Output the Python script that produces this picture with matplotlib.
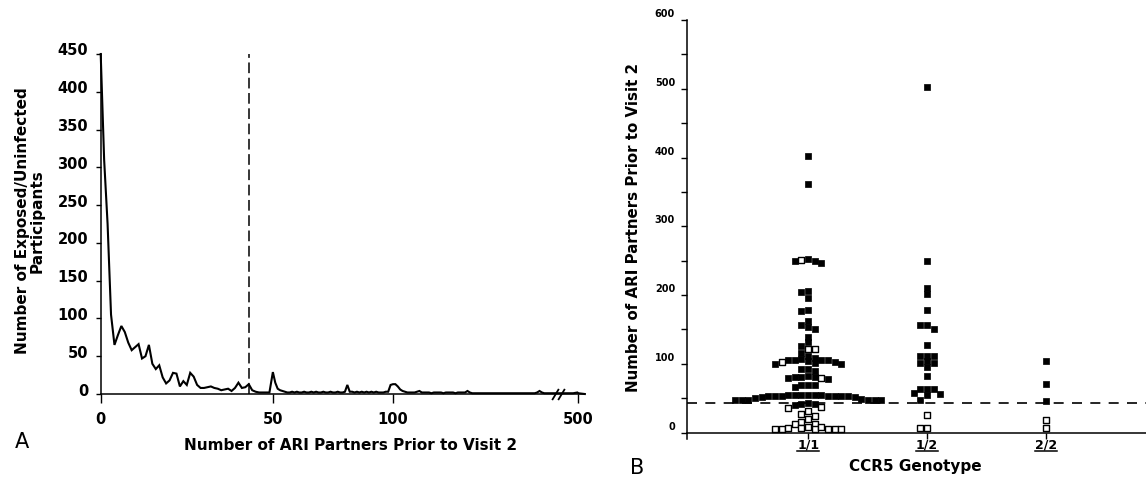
import numpy as np
import matplotlib
matplotlib.use("Agg")
import matplotlib.pyplot as plt
from matplotlib.lines import Line2D
from matplotlib.transforms import ScaledTranslation

# ---------------- Panel A data ----------------
partners_a = list(range(0, 171))
counts_a = [
    450, 310, 225, 105, 65, 78, 90, 82, 68, 58,          # 0-9
    62, 66, 47, 50, 65, 40, 33, 38, 22, 14,              # 10-19
    18, 28, 27, 10, 17, 12, 28, 23, 12, 8,               # 20-29
    8, 9, 10, 8, 7, 5, 6, 7, 4, 8,                       # 30-39
    15, 8, 9, 13, 5, 3, 2, 2, 2, 2,                      # 40-49
    29, 15, 7, 5, 4, 3, 2, 2, 3, 2,                      # 50-59
    3, 2, 2, 3, 2, 2, 3, 2, 3, 2,                        # 60-69
    2, 3, 2, 2, 3, 2, 2, 3, 2, 2,                        # 70-79
    3, 12, 3, 3, 2, 3, 2, 3, 2, 3,                       # 80-89
    2, 3, 2, 3, 2, 2, 2, 3, 3, 12,                       # 90-99
    13, 13, 10, 6, 4, 3, 2, 2, 2, 2,                     # 100-109
    3, 4, 2, 2, 2, 2, 1, 2, 2, 2,                        # 110-119
    2, 1, 2, 2, 2, 2, 1, 2, 2, 2,                        # 120-129
    2, 4, 2, 1, 1, 1, 1, 1, 1, 1,                        # 130-139
    1, 1, 1, 1, 1, 1, 1, 1, 1, 1,                        # 140-149
    1, 1, 1, 1, 1, 1, 1, 1, 1, 1,                        # 150-159
    2, 4, 2, 1, 1, 1, 1, 1, 1, 1,                        # 160-169
    1,                                                   # 170
]
tail_partners = [250, 400, 480, 500, 620]
tail_counts = [1, 1, 2, 1, 0]
a_xticks = [0, 50, 100, 500]
a_yticks = list(range(0, 451, 50))
threshold = 43

# ---------------- Panel B data ----------------
genotypes = ["1/1", "1/2", "2/2"]
g11_filled = [402, 361, 250, 252, 250, 247, 206, 204, 196, 177, 178, 162, 157,
              153, 150, 139, 131, 126, 116, 112,
              104, 109, 100, 107, 106, 100, 106, 106, 101, 106, 102,
              93, 92, 90, 79, 81, 81, 81, 82, 78, 69, 69, 69, 66,
              53, 54, 54, 53, 54, 53, 54, 53, 53, 54, 54, 53, 53, 52,
              51, 50, 49, 48, 48, 47, 47, 48, 47,
              43, 42, 42, 40]
g11_open = [251, 122, 121, 103, 80, 37, 36, 31, 27, 24, 19, 15, 13, 12,
            5, 7, 5, 8, 5, 5, 8, 5, 7, 5]
g12_filled = [502, 250, 210, 202, 178, 156, 156, 151, 127, 111, 112, 111,
              104, 101, 101, 96, 82, 63, 63, 63, 58, 56, 54, 47]
g12_open = [25, 7, 7]
g22_filled = [104, 70, 46]
g22_open = [18, 7]
b_yticks = list(range(0, 601, 100))
b_yminor = list(range(50, 600, 100))

plt.rcParams["font.family"] = ["DejaVu Sans"]
W, H = 1146, 482
fig = plt.figure(figsize=(W / 100, H / 100), dpi=100)

# ---------------- Panel A ----------------
axA = fig.add_axes([100.7 / W, 88 / H, 484 / W, 340 / H])

SEG1, SEG2 = 50.0, 170.0
R2 = 120.0 / 172.0
T2 = SEG1 + (SEG2 - SEG1) * R2
R3 = 0.0152


def fwd(x):
    x = np.asarray(x, dtype=float)
    return np.where(x <= SEG1, x,
                    np.where(x <= SEG2, SEG1 + (x - SEG1) * R2, T2 + (x - SEG2) * R3))


def inv(t):
    t = np.asarray(t, dtype=float)
    return np.where(t <= SEG1, t,
                    np.where(t <= T2, SEG1 + (t - SEG1) / R2, SEG2 + (t - T2) / R3))


axA.set_xscale("function", functions=(fwd, inv))
xa = partners_a + tail_partners
ya = counts_a + tail_counts
axA.plot(xa, ya, color="black", lw=1.5, solid_joinstyle="miter", clip_on=False)
axA.axvline(threshold, color="black", lw=1.1, dashes=(7, 3))
axA.set_xlim(0, 620)
axA.set_ylim(0, 450)
for s in ("top", "right"):
    axA.spines[s].set_visible(False)
for s in ("left", "bottom"):
    axA.spines[s].set_linewidth(1.1)
axA.set_xticks(a_xticks)
axA.set_xticklabels([str(v) for v in a_xticks], fontsize=10.5, fontweight="bold")
axA.set_yticks(a_yticks)
axA.set_yticklabels([str(v) for v in a_yticks], fontsize=10.5, fontweight="bold")
axA.tick_params(axis="x", direction="out", length=6.2, width=1.0, pad=6.5)
axA.tick_params(axis="y", direction="out", length=3.6, width=1.0, pad=5.5)
axA.minorticks_off()
for lab in axA.get_yticklabels():
    lab.set_transform(lab.get_transform() + ScaledTranslation(0, 4.5 / 100, fig.dpi_scale_trans))
# axis break marks
tb = float(fwd(SEG2))
brk = inv(np.array([tb - 1.7, tb + 0.05]))
axA.plot(brk, [0, 0], ls="none", marker=[(-0.6, -1.0), (0.6, 1.0)],
         markersize=8, mew=1.3, color="black", clip_on=False)

fig.text(351 / W, 1 - 446 / H, "Number of ARI Partners Prior to Visit 2",
         ha="center", va="center", fontsize=11, fontweight="bold")
fig.text(30 / W, 1 - 221 / H, "Number of Exposed/Uninfected\nParticipants",
         ha="center", va="center", rotation=90, fontsize=11, fontweight="bold",
         linespacing=1.0)
fig.text(21.5 / W, 1 - 442.5 / H, "A", ha="center", va="center", fontsize=15)

# ---------------- Panel B ----------------
ybot = -10
axB = fig.add_axes([687 / W, (H - 439.4) / H, (W - 687) / W, (439.4 - 20) / H])
axB.set_xlim(-0.02, 3.845)
axB.set_ylim(ybot, 600)
for s in ("top", "right"):
    axB.spines[s].set_visible(False)
axB.spines["bottom"].set_position(("data", 0))
for s in ("left", "bottom"):
    axB.spines[s].set_linewidth(1.1)

STEP = 0.056
MIN_DY = 8.0


def swarm(values):
    cands = [0.0]
    for k in range(1, 40):
        cands += [-k * STEP, k * STEP]
    placed = []
    offs = []
    for v in values:
        for c in cands:
            if all(abs(c - o) > STEP * 0.98 or abs(v - pv) >= MIN_DY for o, pv in placed):
                break
        placed.append((c, v))
        offs.append(c)
    return offs


groups = [(g11_filled, g11_open), (g12_filled, g12_open), (g22_filled, g22_open)]
for i, (filled, opened) in enumerate(groups):
    vals = list(filled) + list(opened)
    kinds = [1] * len(filled) + [0] * len(opened)
    order = sorted(range(len(vals)), key=lambda j: -vals[j])
    offs_sorted = swarm([vals[j] for j in order])
    offs = [0.0] * len(vals)
    for j, o in zip(order, offs_sorted):
        offs[j] = o
    xs = np.array(offs) + (i + 1)
    vals = np.array(vals)
    kinds = np.array(kinds)
    axB.scatter(xs[kinds == 1], vals[kinds == 1], marker="s", s=18, c="black",
                edgecolors="black", linewidths=0.5, zorder=3, clip_on=False)
    axB.scatter(xs[kinds == 0], vals[kinds == 0], marker="s", s=16, c="white",
                edgecolors="black", linewidths=1.0, zorder=3, clip_on=False)

axB.axhline(threshold, color="black", lw=1.2, dashes=(6, 5), zorder=2)
axB.set_yticks(b_yticks)
axB.set_yticklabels([str(v) for v in b_yticks], fontsize=7, fontweight="bold")
axB.set_yticks(b_yminor, minor=True)
axB.tick_params(axis="y", which="both", direction="out", length=4.3, width=1.0, pad=4.3)
for lab in axB.get_yticklabels():
    lab.set_transform(lab.get_transform() + ScaledTranslation(0, 7 / 100, fig.dpi_scale_trans))
axB.set_xticks([1, 2, 3])
axB.set_xticklabels(genotypes, fontsize=9, fontweight="bold")
axB.tick_params(axis="x", direction="out", length=4.3, width=1.0, pad=0.3)

fig.text(915 / W, 1 - 466 / H, "CCR5 Genotype", ha="center", va="center",
         fontsize=11, fontweight="bold")
fig.text(634 / W, 1 - 227 / H, "Number of ARI Partners Prior to Visit 2",
         ha="center", va="center", rotation=90, fontsize=10.8, fontweight="bold")
fig.text(637.5 / W, 1 - 467.5 / H, "B", ha="center", va="center", fontsize=15)

# underline genotype labels
fig.canvas.draw()
for lab in axB.get_xticklabels():
    bb = lab.get_window_extent()
    yy = bb.y0 + 0.5
    fig.add_artist(Line2D([bb.x0 / W, bb.x1 / W], [yy / H, yy / H],
                          transform=fig.transFigure, color="black", lw=1.1))

fig.savefig("out.png", dpi=100)
